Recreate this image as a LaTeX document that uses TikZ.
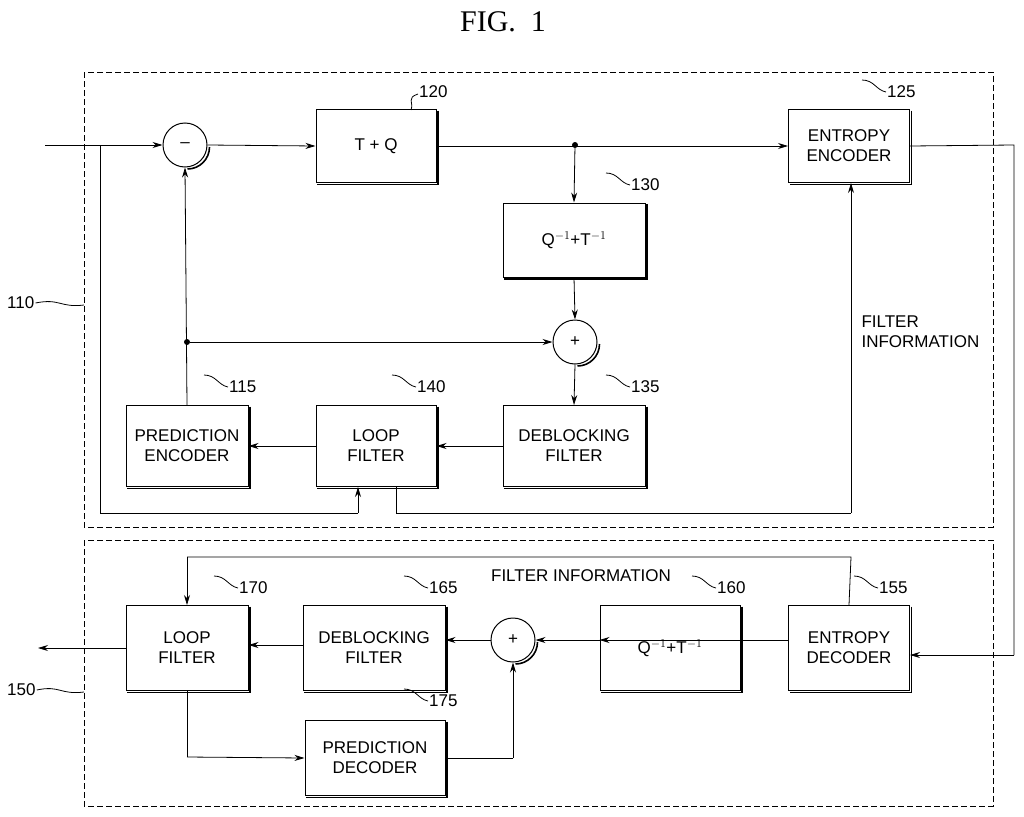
\documentclass[tikz,border=0pt]{standalone}
\usepackage{fontspec}
\setmainfont{Liberation Sans}
\newfontfamily\titlefont{Liberation Serif}
\usetikzlibrary{arrows.meta}
\begin{document}
\begin{tikzpicture}[x=1pt,y=-1pt,
  blk/.style={draw,line width=1pt,minimum width=0pt,inner sep=0pt,align=center,font=\fontsize{17}{20}\selectfont},
  sum/.style={draw,circle,line width=1pt,minimum size=44pt,inner sep=0pt,font=\fontsize{17}{20}\selectfont},
  ar/.style={-{Stealth[length=10pt,width=6pt]},line width=0.8pt},
  ln/.style={line width=0.8pt},
  frame/.style={dashed,line width=0.8pt,dash pattern=on 6pt off 3pt},
  num/.style={font=\fontsize{17}{20}\selectfont,anchor=west,inner sep=1pt},
  dot/.style={circle,fill,inner sep=0pt,minimum size=6pt}]
\useasboundingbox (0,0) rectangle (1024,816);
\node[font=\titlefont\fontsize{30}{34}\selectfont] (title) at (503,22) {FIG.\ \ 1};
\draw[frame] (84,72) rectangle (993,527);
\draw[frame] (84,540) rectangle (993,806);
% box macro-like via nodes
\newcommand\bx[6]{\node[blk,minimum width=#4pt,minimum height=#5pt] (#1) at (#2,#3) {#6};
  \draw[line width=1.6pt] ([xshift=1.5pt,yshift=-1.5pt]#1.north east) -- ([xshift=1.5pt,yshift=-1.5pt]#1.south east) -- ([xshift=1.5pt,yshift=-1.5pt]#1.south west);}
\newcommand\lab[3]{\node[num] (l#1) at (#2) {#3};
  \draw[ln] ([xshift=-24pt,yshift=12pt]l#1.west) .. controls ([xshift=-12pt,yshift=12pt]l#1.west) and ([xshift=-10pt,yshift=2pt]l#1.west) .. (l#1.west);}
% encoder
\node[sum] (m) at (185,145) {--};
\draw[line width=1.6pt] ([shift={(2pt,-2pt)}]m.0) arc (0:-90:22pt);
\bx{tq}{376}{146}{120}{73}{T + Q}
\bx{ee}{849}{146}{121}{73}{ENTROPY\\ENCODER}
\bx{iq}{574}{240}{142}{74}{Q$^{-1}$+T$^{-1}$}
\node[sum] (p) at (575,342) {+};
\draw[line width=1.6pt] ([shift={(2pt,-2pt)}]p.0) arc (0:-90:22pt);
\bx{db}{574}{446}{142}{81}{DEBLOCKING\\FILTER}
\bx{lf}{376}{446}{120}{81}{LOOP\\FILTER}
\bx{pe}{187}{446}{122}{81}{PREDICTION\\ENCODER}
\node[num] at (418,92) {120};
\draw[ln] (411,110) .. controls (414,102) and (406,98) .. (418,94);
\lab{125}{886,92}{125}
\lab{130}{630,185}{130}
\lab{135}{630,387}{135}
\lab{140}{416,387}{140}
\lab{115}{228,387}{115}
\coordinate (in) at (45,145);
\coordinate (j) at (100,145);
\draw[ar] (in) -- (m.west);
\draw[ln] (j) -- (100,513) -- (358,513);
\draw[ar] (358,513) -- (lf.south -| 358,0);
\draw[ar] (m.east) -- (tq.west);
\draw[ar] (tq.east) -- (ee.west);
\node[dot] (d1) at (575,145) {};
\draw[ar] (d1) -- (iq.north);
\draw[ar] (iq.south) -- (p.north);
\draw[ar] (p.south) -- (db.north);
\draw[ar] (db.west) -- (lf.east);
\draw[ar] (lf.west) -- (pe.east);
\draw[ar] (pe.north) -- (m.south);
\node[dot] (d2) at (187,342) {};
\draw[ar] (d2) -- (p.west);
\draw[ln] (396,486.5) -- (396,513) -- (851,513);
\draw[ar] (851,513) -- (ee.south -| 851,0);
\node[font=\fontsize{17}{20}\selectfont,align=left,anchor=north west] (fi1) at (858,312) {FILTER\\INFORMATION};
\draw[ln] (ee.east) -- (1014,145) -- (1014,655);
% decoder
\bx{ed}{849}{648}{121}{85}{ENTROPY\\DECODER}
\bx{iq2}{670}{648}{140}{85}{Q$^{-1}$+T$^{-1}$}
\node[sum] (p2) at (513,640) {+};
\draw[line width=1.6pt] ([shift={(2pt,-2pt)}]p2.0) arc (0:-90:22pt);
\bx{db2}{374}{648}{142}{85}{DEBLOCKING\\FILTER}
\bx{lf2}{187}{648}{122}{85}{LOOP\\FILTER}
\bx{pd}{375}{758}{140}{75}{PREDICTION\\DECODER}
\draw[ar] (1014,655) -- (ed.east |- 0,655);
\lab{155}{878,588}{155}
\lab{160}{716,588}{160}
\lab{165}{428,588}{165}
\lab{170}{238,588}{170}
\lab{175}{428,701}{175}
\draw[ar] (ed.west |- 0,640) -- (iq2.west |- 0,640) ;
\draw[ar] (iq2.west |- 0,640) -- (p2.east);
\draw[ar] (p2.west) -- (db2.east |- 0,640);
\draw[ar] (db2.west |- 0,645) -- (lf2.east |- 0,645);
\coordinate (out) at (38,648);
\draw[ar] (lf2.west) -- (out);
\draw[ln] (ed.north |- 0,605) -- (851,557) -- (187,557);
\draw[ar] (187,557) -- (lf2.north);
\node[font=\fontsize{17}{20}\selectfont] (fi2) at (581,576) {FILTER INFORMATION};
\draw[ln] (lf2.south) -- (187,757);
\draw[ar] (187,757) -- (pd.west);
\draw[ln] (pd.east) -- (513,758);
\draw[ar] (513,758) -- (p2.south);
% frame labels
\node[num] (n110) at (6,303) {110};
\draw[ln] (n110.east) .. controls (60,298) and (60,308) .. (84,305);
\node[num] (n150) at (6,690) {150};
\draw[ln] (n150.east) .. controls (60,685) and (60,695) .. (84,692);
\end{tikzpicture}
\end{document}
